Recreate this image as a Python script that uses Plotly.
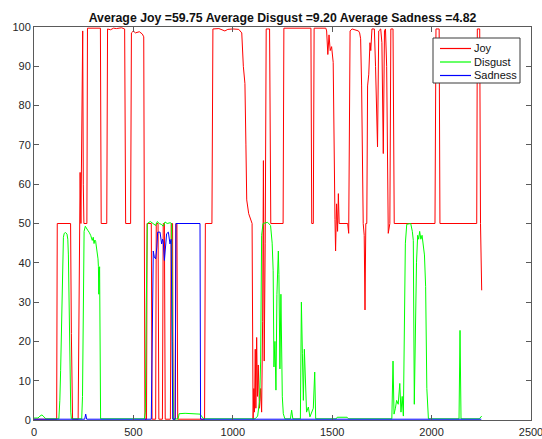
import plotly.graph_objects as go

title_text = "Average Joy =59.75 Average Disgust =9.20 Average Sadness =4.82"
series_names = ["Joy", "Disgust", "Sadness"]
series_colors = ["#ff0000", "#00ff00", "#0000ff"]

joy_x = [0, 114, 117, 184, 188, 191, 194, 222, 226, 229, 232, 236, 240, 245, 248, 251, 266, 269, 334, 338,
         366, 370, 385, 400, 415, 440, 456, 461, 486, 490, 500, 510, 530, 545, 552, 555, 558, 566, 569, 590,
         594, 612, 615, 624, 628, 646, 650, 656, 660, 686, 690, 697, 700, 710, 714, 719, 723, 858, 862, 895,
         900, 930, 950, 960, 975, 1000, 1030, 1045, 1053, 1058, 1061, 1066, 1070, 1080, 1092, 1097, 1102, 1106,
         1109, 1113, 1116, 1120, 1124, 1128, 1134, 1140, 1145, 1150, 1154, 1158, 1163, 1168, 1185, 1191, 1253,
         1257, 1393, 1397, 1405, 1409, 1468, 1472, 1478, 1484, 1490, 1497, 1505, 1510, 1514, 1517, 1522, 1527,
         1531, 1535, 1578, 1583, 1590, 1600, 1620, 1632, 1638, 1643, 1648, 1652, 1656, 1661, 1665, 1669, 1674,
         1678, 1684, 1690, 1694, 1700, 1712, 1718, 1728, 1734, 1744, 1750, 1757, 1763, 1768, 1774, 1779, 1782,
         1790, 1795, 1806, 1812, 2017, 2022, 2038, 2042, 2227, 2230, 2242, 2246, 2252]
joy_y = [0.2, 0.2, 50, 50, 22, 5, 0.2, 0.2, 40, 50, 63, 50, 75, 99, 60, 50, 50, 99.7, 99.7, 50,
         50, 99.5, 99.3, 99.7, 99.6, 99.8, 99.5, 50, 50, 98.5, 99, 98.5, 98.8, 98.2, 97.5, 50, 0.2, 0.2, 50, 50,
         0.2, 0.2, 50, 50, 0.2, 0.2, 50, 50, 0.2, 0.2, 50, 50, 0.2, 0.2, 50, 50, 0.2, 0.2, 50, 50,
         99.5, 99.6, 99.2, 99.0, 99.4, 99.5, 99.4, 98.5, 90, 88, 85.6, 70, 56, 52.5, 51, 50, 0.2, 8,
         2, 18, 3, 21, 6, 14, 3, 8, 2, 25, 66, 15, 45, 99.5, 99.5, 50, 50,
         99.7, 99.7, 50, 50, 99.7, 99.7, 99, 93, 98, 94, 95, 91, 60, 51, 43, 55, 48,
         57.6, 50, 50, 47.5, 99, 99.5, 99.3, 99, 98.5, 97, 85, 55, 50, 47, 28, 50, 50,
         85, 88, 96, 94, 99.5, 99.5, 90, 69.5, 99, 99.5, 96, 67.8, 99, 99.5, 90, 50, 47.5,
         50, 99.5, 99.5, 50, 50, 99.5, 99.5, 50, 50, 99.5, 99.5, 50, 33]

disgust_x = [0, 20, 30, 40, 50, 60, 125, 130, 134, 138, 143, 148, 152, 159, 166, 170, 173, 176, 179, 181,
             185, 188, 240, 244, 248, 252, 258, 265, 270, 277, 285, 293, 298, 302, 306, 310, 314, 319, 322, 324,
             326, 328, 330, 332, 335, 555, 560, 565, 570, 585, 600, 612, 620, 630, 640, 650, 659, 670, 685, 692,
             697, 701, 725, 730, 760, 800, 835, 845, 855, 1112, 1125, 1135, 1140, 1145, 1152, 1175, 1190, 1198,
             1203, 1207, 1212, 1217, 1222, 1229, 1232, 1237, 1242, 1249, 1254, 1262, 1290, 1296, 1302, 1340,
             1345, 1350, 1355, 1360, 1366, 1371, 1380, 1388, 1405, 1412, 1417, 1520, 1525, 1575, 1582, 1800,
             1806, 1811, 1818, 1824, 1832, 1840, 1846, 1852, 1858, 1863, 1868, 1875, 1895, 1903, 1908, 1913,
             1918, 1924, 1930, 1935, 1940, 1946, 1952, 1958, 1964, 1970, 1976, 1984, 2138, 2143, 2148, 2240,
             2246, 2252]
disgust_y = [0.5, 0.5, 1.0, 1.3, 0.8, 0.3, 0.3, 5, 12.6, 25, 34, 46.5, 47.5, 47.7, 47.3, 46, 42, 30, 15, 8,
             2, 0.3, 0.3, 6, 25, 48, 49.3, 48.5, 48.3, 47.8, 47, 45.7, 46.5, 44.9, 45.8, 45.5, 44, 43.2, 41, 39,
             32, 36, 39, 20, 0.3, 0.3, 2, 30, 50, 50.5, 50, 49.5, 50.5, 50, 49.8, 49.3, 50.4, 50, 50.2, 50,
             20, 0.2, 0.3, 1.6, 1.7, 1.6, 1.5, 0.8, 0.3, 0.3, 1, 5, 15, 47, 50, 50.3, 49.5, 45,
             38, 13.5, 20, 7.6, 32, 43, 37, 13, 32, 5.9, 1.6, 0.3, 0.3, 2.5, 0.3, 0.3,
             30, 17, 5, 18, 7, 2, 3.3, 0.8, 3, 12.2, 0.3, 0.3, 0.7, 0.7, 0.3, 0.3,
             15, 1.5, 3, 5, 4, 9.3, 2, 6, 1, 20, 45, 49.8, 50, 48, 45.7, 4,
             20, 40, 47, 46, 48, 46, 47, 44, 42, 34, 8, 0.3, 0.3, 22.8, 0.3, 0.3,
             0.8, 1]

sadness_x = [0, 255, 260, 265, 590, 596, 600, 605, 612, 618, 622, 634, 642, 647, 650, 656, 662, 667, 676,
             684, 690, 695, 698, 710, 714, 835, 838, 2250]
sadness_y = [0.2, 0.2, 1.5, 0.2, 0.2, 30, 43, 41.5, 41, 44, 47.8, 47.8, 44.8, 46, 45.5, 40.6, 44, 47.4, 47.8,
             44.8, 46, 20, 0.2, 0.2, 50, 50, 0.2, 0.2]

x_ticks = [0, 500, 1000, 1500, 2000, 2500]
y_ticks = [0, 10, 20, 30, 40, 50, 60, 70, 80, 90, 100]

W, H = 542, 439
ML, MR, MT, MB = 34, 11, 27, 19
FONT = "Liberation Sans, Arial, sans-serif"

fig = go.Figure()
for name, color, xs, ys in zip(series_names, series_colors,
                               [joy_x, disgust_x, sadness_x], [joy_y, disgust_y, sadness_y]):
    fig.add_trace(go.Scatter(x=xs, y=ys, mode="lines", name=name,
                             line=dict(color=color, width=1), showlegend=False))

axis_common = dict(showline=True, linecolor="#5a5a5a", linewidth=1, mirror="ticks", ticks="inside",
                   ticklen=5, tickcolor="#5a5a5a", showgrid=False, zeroline=False, automargin=False,
                   ticklabeloverflow="allow",
                   tickfont=dict(family=FONT, size=11, color="#262626"))

# compact MATLAB-style legend box drawn in paper coordinates
pw, ph = W - ML - MR, H - MT - MB
def px_x(p):
    return (p - ML) / pw
def px_y(p):
    return (H - MB - p) / ph

shapes = [dict(type="rect", xref="paper", yref="paper",
               x0=px_x(433), x1=px_x(520), y0=px_y(83), y1=px_y(38),
               line=dict(color="#3a3a3a", width=1), fillcolor="white", layer="above")]
annotations = []
row_y = [48.5, 62, 75.5]
for name, color, ry in zip(series_names, series_colors, row_y):
    shapes.append(dict(type="line", xref="paper", yref="paper",
                       x0=px_x(440), x1=px_x(471), y0=px_y(ry), y1=px_y(ry),
                       line=dict(color=color, width=1.2), layer="above"))
    annotations.append(dict(xref="paper", yref="paper", x=px_x(472), y=px_y(ry),
                            xanchor="left", yanchor="middle", text=name, showarrow=False,
                            font=dict(family=FONT, size=11, color="#111111")))

fig.update_layout(
    width=W, height=H,
    margin=dict(l=ML, r=MR, t=MT, b=MB),
    paper_bgcolor="white", plot_bgcolor="white",
    title=dict(text="<b>" + title_text + "</b>", x=0.5, xref="paper", xanchor="center",
               y=1 - 18 / H, yref="container", yanchor="middle",
               font=dict(family=FONT, size=12.3, color="#111111")),
    xaxis=dict(range=[0, 2500], tickvals=x_ticks, ticklabelstandoff=2, **axis_common),
    yaxis=dict(range=[0, 100], tickvals=y_ticks, **axis_common),
    shapes=shapes, annotations=annotations,
    showlegend=False,
)

fig.write_html("out.html")
